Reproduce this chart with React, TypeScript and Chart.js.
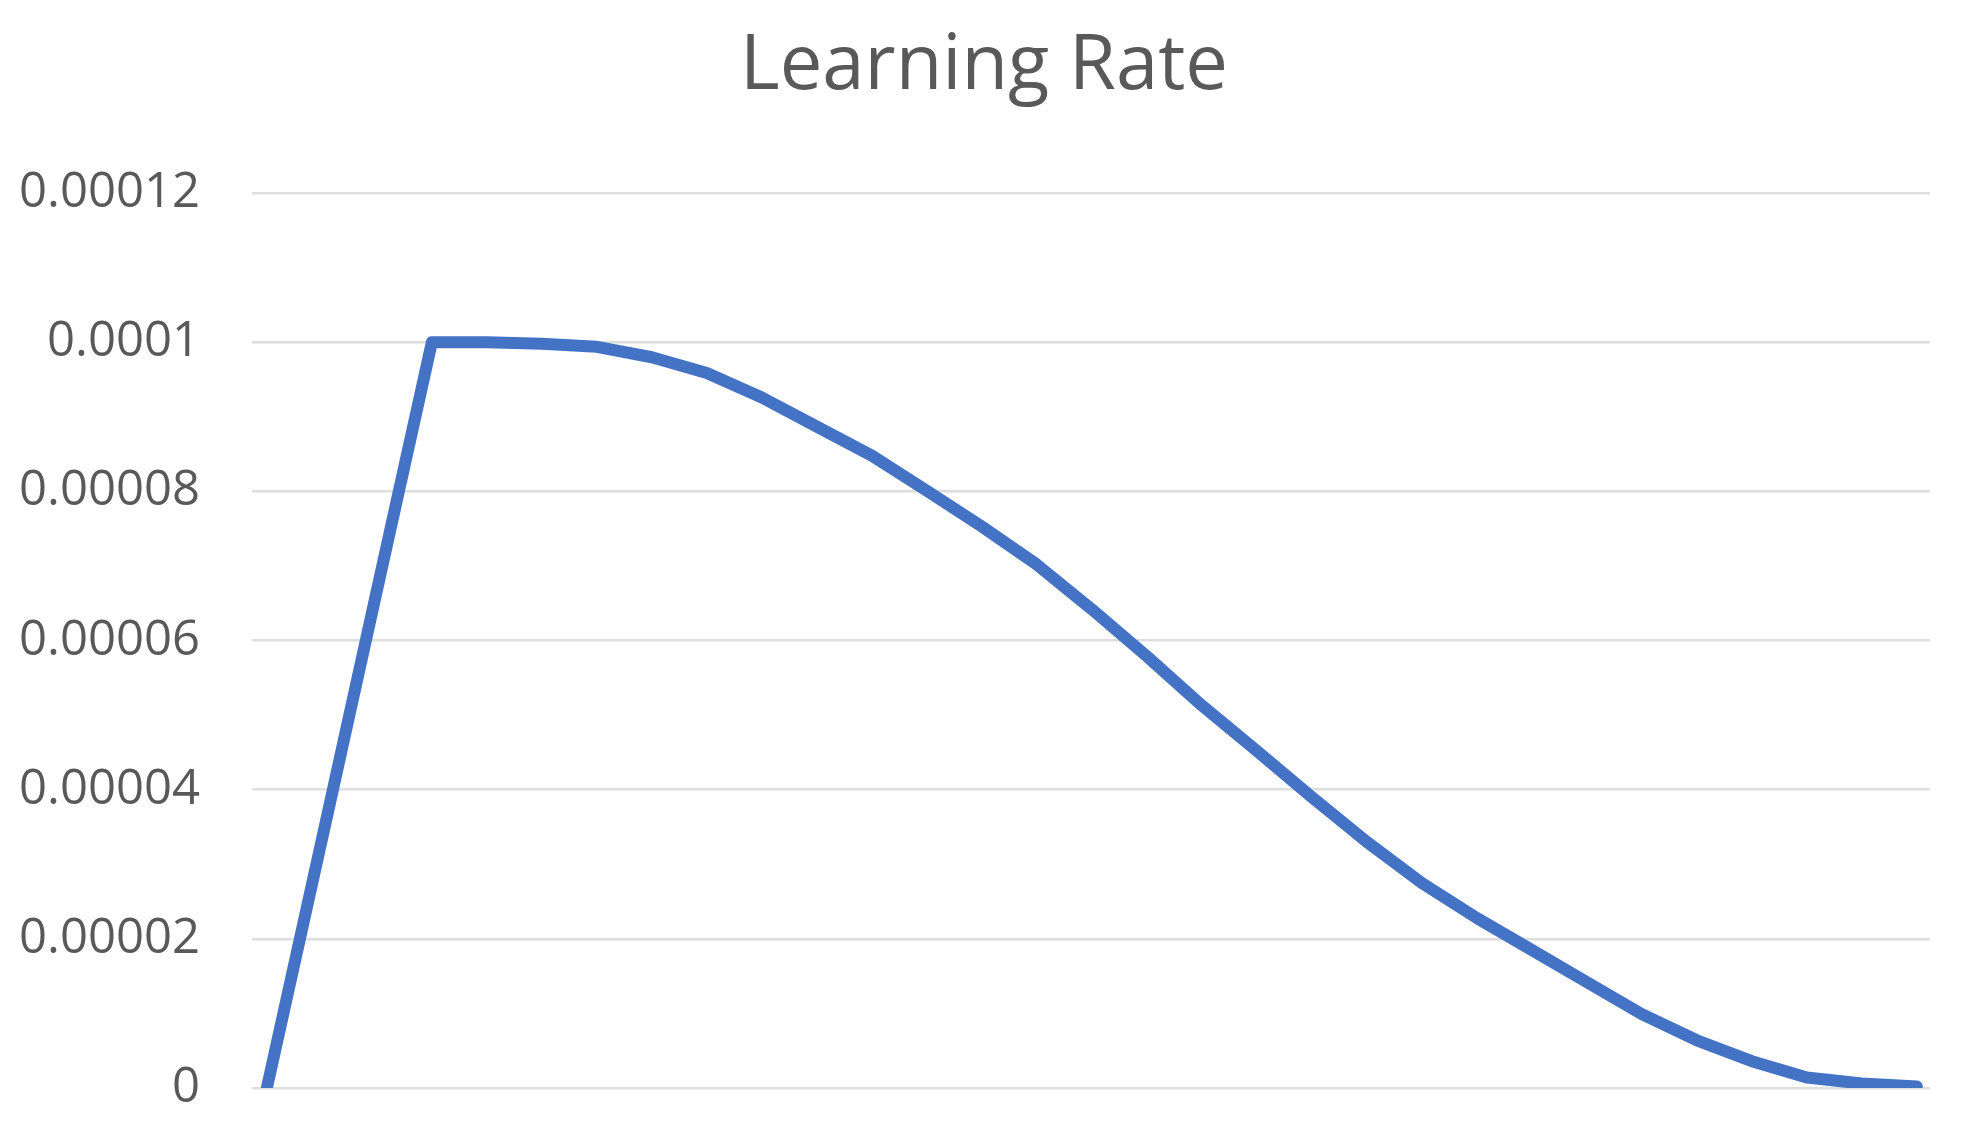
import { useEffect, useRef } from "react";
import { Chart, registerables } from "chart.js";

Chart.register(...registerables);

const steps = [
  0, 1, 2, 3, 4, 5, 6, 7, 8, 9, 10, 11, 12, 13, 14, 15, 16, 17, 18, 19, 20,
  21, 22, 23, 24, 25, 26, 27, 28, 29, 30,
];

const learningRate = [
  0, 0.0000333, 0.0000667, 0.0001, 0.0001, 0.0000998, 0.0000994, 0.000098,
  0.0000959, 0.0000926, 0.0000887, 0.0000848, 0.0000801, 0.0000753,
  0.0000702, 0.0000642, 0.0000579, 0.0000513, 0.0000452, 0.000039,
  0.000033, 0.0000275, 0.0000228, 0.0000185, 0.0000142, 0.0000099,
  0.0000064, 0.0000036, 0.0000014, 0.0000006, 0.0000002,
];

const yTickValues = [0, 0.00002, 0.00004, 0.00006, 0.00008, 0.0001, 0.00012];
const yTickLabels = ["0", "0.00002", "0.00004", "0.00006", "0.00008", "0.0001", "0.00012"];

const chartTitle = "Learning Rate";

export default function App() {
  const canvasRef = useRef<HTMLCanvasElement | null>(null);

  useEffect(() => {
    document.body.style.margin = "0";
    const canvas = canvasRef.current;
    if (!canvas) return;
    const chart = new Chart(canvas, {
      type: "line",
      data: {
        datasets: [
          {
            label: chartTitle,
            data: steps.map((s, i) => ({ x: s, y: learningRate[i] })),
            borderColor: "#4472C4",
            backgroundColor: "#4472C4",
            borderWidth: 12,
            borderCapStyle: "round",
            borderJoinStyle: "round",
            pointRadius: 0,
            tension: 0,
            fill: false,
            yAxisID: "y",
          },
        ],
      },
      options: {
        responsive: false,
        animation: false,
        layout: { padding: { left: 0, right: 0, top: 0, bottom: 55 } },
        scales: {
          x: {
            type: "linear",
            min: -0.27,
            max: 30.24,
            display: false,
          },
          y: {
            type: "linear",
            position: "left",
            min: 0,
            max: 0.00012,
            afterBuildTicks: (scale: any) => {
              scale.ticks = yTickValues.map((v) => ({ value: v }));
            },
            afterFit: (scale: any) => {
              scale.width = 252;
              scale.paddingTop = 0;
              scale.paddingBottom = 0;
            },
            ticks: {
              callback: (_v: any, i: number) => yTickLabels[i],
              font: { family: "Open Sans", size: 49 },
              color: "#595959",
              padding: 52,
            },
            grid: {
              color: "#dedede",
              lineWidth: 2.5,
              drawTicks: false,
            },
            border: { display: false },
          },
          spacer: {
            type: "linear",
            position: "right",
            display: true,
            min: 0,
            max: 1,
            afterFit: (scale: any) => {
              scale.width = 38;
              scale.paddingTop = 0;
              scale.paddingBottom = 0;
            },
            ticks: { display: false },
            grid: { display: false, drawTicks: false },
            border: { display: false },
          },
        },
        plugins: {
          legend: { display: false },
          tooltip: { enabled: false },
          title: {
            display: true,
            text: chartTitle,
            color: "#595959",
            font: { family: "Open Sans", size: 76, weight: "normal" },
            padding: { top: 22, bottom: 80 },
          },
        },
      },
    } as any);
    return () => chart.destroy();
  }, []);

  return (
    <div style={{ width: 1968, height: 1143, background: "#ffffff" }}>
      <canvas ref={canvasRef} width={1968} height={1143} style={{ display: "block" }} />
    </div>
  );
}
